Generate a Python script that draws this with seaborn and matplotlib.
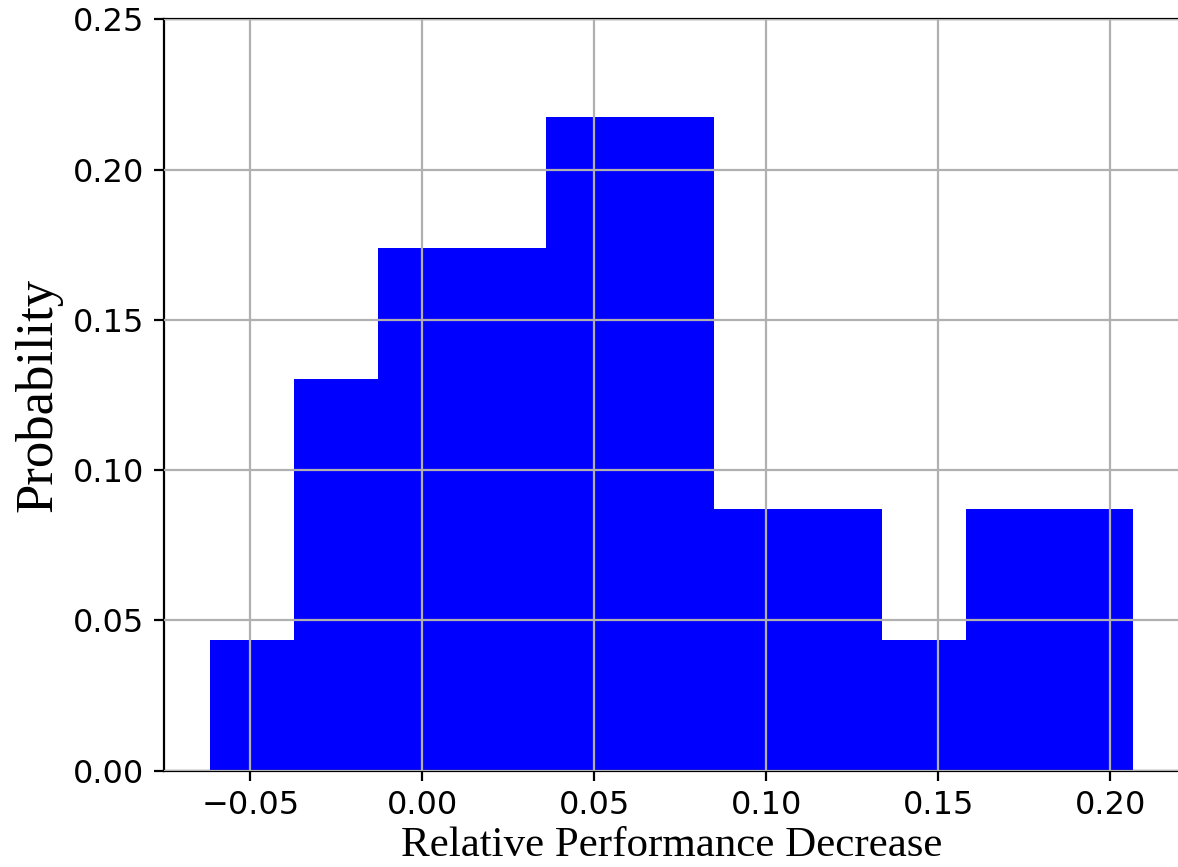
import numpy as np
import pandas as pd
import matplotlib
matplotlib.use("Agg")
import matplotlib.pyplot as plt
import seaborn as sns

# Histogram bin edges and bar heights (probability)
bin_edges = [-0.0617, -0.0373, -0.0129, 0.0115, 0.0359, 0.0603, 0.0847,
             0.1091, 0.1335, 0.1579, 0.1823, 0.2067]
probabilities = [0.0435, 0.1304, 0.1739, 0.1739, 0.2174, 0.2174,
                 0.0870, 0.0870, 0.0435, 0.0870, 0.0870]
x_ticks = [-0.05, 0.00, 0.05, 0.10, 0.15, 0.20]
y_ticks = [0.00, 0.05, 0.10, 0.15, 0.20, 0.25]

centers = [(a + b) / 2 for a, b in zip(bin_edges[:-1], bin_edges[1:])]
df = pd.DataFrame({"value": centers, "prob": probabilities})

sns.set_style("white")
plt.rcParams["font.family"] = ["DejaVu Sans"]
plt.rcParams["axes.unicode_minus"] = True

W, H = 1178, 867
fig = plt.figure(figsize=(W / 100, H / 100), dpi=100)
ax = fig.add_axes([164 / W, (H - 770.7) / H, (1179.6 - 164) / W, (770.7 - 19.3) / H])

sns.histplot(data=df, x="value", weights="prob", bins=bin_edges,
             color="#0000ff", alpha=1.0, linewidth=0, ax=ax)

ax.set_ylim(0, 0.25)
ax.set_xticks(x_ticks)
ax.set_yticks(y_ticks)
ax.set_xticklabels([f"{v:.2f}".replace("-", "\u2212") for v in x_ticks])
ax.set_yticklabels([f"{v:.2f}" for v in y_ticks])

ax.set_axisbelow(False)
ax.grid(True, color="#b0b0b0", linewidth=1.6)

for s in ax.spines.values():
    s.set_visible(True)
    s.set_color("black")
    s.set_linewidth(1.6)

ax.tick_params(axis="both", which="major", labelsize=23, length=7,
               width=1.6, pad=7, color="black", labelcolor="black",
               direction="out", bottom=True, left=True)

ax.set_xlabel("Relative Performance Decrease", family="Liberation Serif",
              fontsize=31, labelpad=4, color="black")
ax.set_ylabel("Probability", family="Liberation Serif", fontsize=38,
              labelpad=8, color="black")

fig.savefig("out.png", dpi=100)
